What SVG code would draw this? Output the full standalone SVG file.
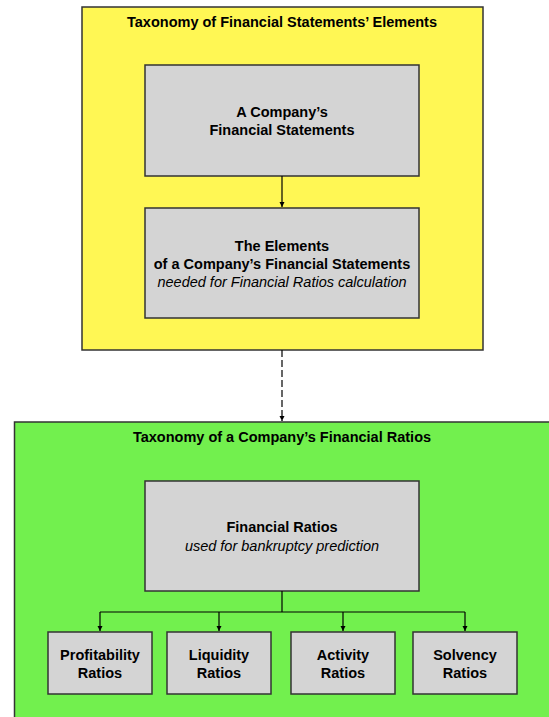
<svg xmlns="http://www.w3.org/2000/svg" width="549" height="717" viewBox="0 0 549 717">
<style>
.c{stroke:#333;stroke-width:1.5}
.n{fill:#d4d4d4;stroke:#333;stroke-width:1.5}
text{font-family:"Liberation Sans",Arial,sans-serif;font-size:14.5px;text-anchor:middle;fill:#000}
.b{font-weight:bold}
.i{font-style:italic}
.l{fill:none;stroke:#000;stroke-width:1.2}
</style>
<defs>
<marker id="a" viewBox="0 0 8 10" refX="8" refY="5" markerWidth="5" markerHeight="7" orient="auto" markerUnits="userSpaceOnUse"><path d="M0,1 L8,5 L0,9 z" fill="#000"/></marker>
</defs>
<rect width="549" height="717" fill="#fff"/>
<g id="yellow">
<rect x="82" y="7" width="401" height="343" fill="#fff754" class="c"/>
<text x="282" y="27" class="b">Taxonomy of Financial Statements’ Elements</text>
</g>
<g id="green">
<rect x="14.5" y="422" width="540" height="300" fill="#72f04e" class="c"/>
<text x="282" y="442" class="b">Taxonomy of a Company’s Financial Ratios</text>
</g>
<g id="n1">
<rect x="145" y="65" width="274" height="111" class="n"/>
<text x="282" y="117" class="b">A Company’s</text>
<text x="282" y="135" class="b">Financial Statements</text>
</g>
<g id="n2">
<rect x="145" y="208" width="274" height="110" class="n"/>
<text x="282" y="251" class="b">The Elements</text>
<text x="282" y="269" class="b">of a Company’s Financial Statements</text>
<text x="282" y="287" class="i">needed for Financial Ratios calculation</text>
</g>
<g id="n3">
<rect x="145" y="481" width="274" height="110" class="n"/>
<text x="282" y="532" class="b">Financial Ratios</text>
<text x="282" y="551" class="i">used for bankruptcy prediction</text>
</g>
<g id="p">
<rect x="48" y="632" width="104" height="62" class="n"/>
<text x="100" y="660" class="b">Profitability</text>
<text x="100" y="678" class="b">Ratios</text>
</g>
<g id="q">
<rect x="167" y="632" width="104" height="62" class="n"/>
<text x="219" y="660" class="b">Liquidity</text>
<text x="219" y="678" class="b">Ratios</text>
</g>
<g id="r">
<rect x="291" y="632" width="104" height="62" class="n"/>
<text x="343" y="660" class="b">Activity</text>
<text x="343" y="678" class="b">Ratios</text>
</g>
<g id="s">
<rect x="413" y="632" width="104" height="62" class="n"/>
<text x="465" y="660" class="b">Solvency</text>
<text x="465" y="678" class="b">Ratios</text>
</g>
<g id="connectors">
<path d="M282,176 V207" class="l" marker-end="url(#a)"/>
<path d="M282,350 V421" class="l" stroke-dasharray="7,3" marker-end="url(#a)"/>
<path d="M282,591 V612" class="l"/>
<path d="M100,612 H465" class="l"/>
<path d="M100,612 V631" class="l" marker-end="url(#a)"/>
<path d="M219,612 V631" class="l" marker-end="url(#a)"/>
<path d="M343,612 V631" class="l" marker-end="url(#a)"/>
<path d="M465,612 V631" class="l" marker-end="url(#a)"/>
</g>
</svg>
